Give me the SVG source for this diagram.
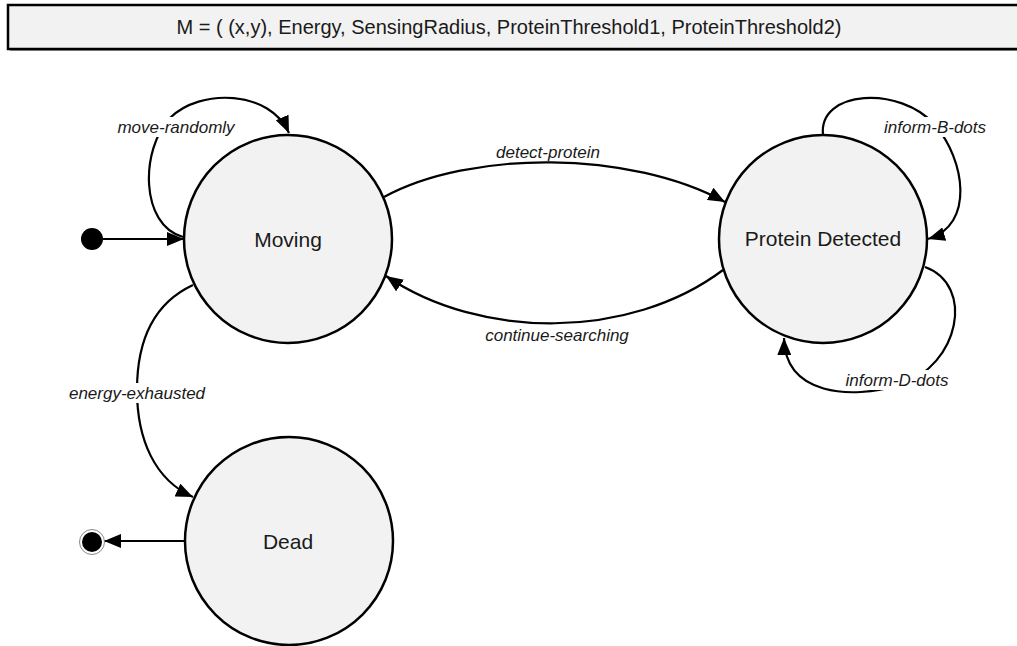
<svg xmlns="http://www.w3.org/2000/svg" width="1017" height="646" viewBox="0 0 1017 646">
<style>
.state{fill:#f2f2f2;stroke:#000;stroke-width:2.5}
.name{font-family:"Liberation Sans",Arial,sans-serif;font-size:21px;fill:#1a1a1a;text-anchor:middle;dominant-baseline:central}
.edge{fill:none;stroke:#000;stroke-width:2.2;marker-end:url(#arrow)}
.lbl{font-family:"Liberation Sans",Arial,sans-serif;font-size:17px;font-style:italic;fill:#1a1a1a;text-anchor:middle;dominant-baseline:central}
.lblbg{fill:#fff}
</style>
<defs>
<marker id="arrow" markerUnits="userSpaceOnUse" markerWidth="18" markerHeight="14" refX="17" refY="7" orient="auto">
<path d="M0,0 L17,7 L0,14 z" fill="#000"/>
</marker>
</defs>
<rect width="1017" height="646" fill="#fff"/>
<g id="header">
<rect x="10" y="7" width="1015" height="44" fill="#9a9a9a"/>
<rect x="8" y="5" width="1015" height="44" fill="#f2f2f2" stroke="#000" stroke-width="2.5"/>
<text x="509" y="27" class="name" style="font-size:20px">M = ( (x,y), Energy, SensingRadius, ProteinThreshold1, ProteinThreshold2)</text>
</g>
<g id="connectors">
<path class="edge" d="M102,239 L184,239"/>
<path class="edge" d="M183,237 C140,225 140,150 170,118 C200,88 270,90 289,133"/>
<path class="edge" d="M384,197 C470,150 630,150 725,202"/>
<path class="edge" d="M723,270 C630,340 480,340 386,276"/>
<path class="edge" d="M823,135 C818,90 900,85 935,125 C965,160 975,225 928,239"/>
<path class="edge" d="M925,267 C975,285 960,365 900,385 C850,400 785,395 784,338"/>
<path class="edge" d="M193,285 C150,305 137,345 137,390 C137,440 155,480 193,497"/>
<path class="edge" d="M185,541 L104,541"/>
<rect class="lblbg" x="114" y="117" width="124" height="20"/>
<text class="lbl" x="176" y="127">move-randomly</text>
<text class="lbl" x="548" y="152">detect-protein</text>
<text class="lbl" x="557" y="335">continue-searching</text>
<rect class="lblbg" x="881" y="117" width="108" height="20"/>
<text class="lbl" x="935" y="127">inform-B-dots</text>
<rect class="lblbg" x="844" y="370" width="108" height="20"/>
<text class="lbl" x="897" y="380">inform-D-dots</text>
<rect class="lblbg" x="66" y="383" width="142" height="20"/>
<text class="lbl" x="137" y="393">energy-exhausted</text>
</g>
<g id="start">
<circle cx="92" cy="239" r="11" fill="#000"/>
</g>
<g id="moving">
<circle class="state" cx="288" cy="239" r="104"/>
<text class="name" x="288" y="239">Moving</text>
</g>
<g id="protein-detected">
<circle class="state" cx="823" cy="239" r="104"/>
<text class="name" x="823" y="238">Protein Detected</text>
</g>
<g id="dead">
<circle class="state" cx="289" cy="541" r="104"/>
<text class="name" x="288" y="541">Dead</text>
</g>
<g id="end">
<circle cx="92" cy="542" r="12.5" fill="#fff" stroke="#888" stroke-width="1"/>
<circle cx="92" cy="542" r="10" fill="#000"/>
</g>
</svg>
